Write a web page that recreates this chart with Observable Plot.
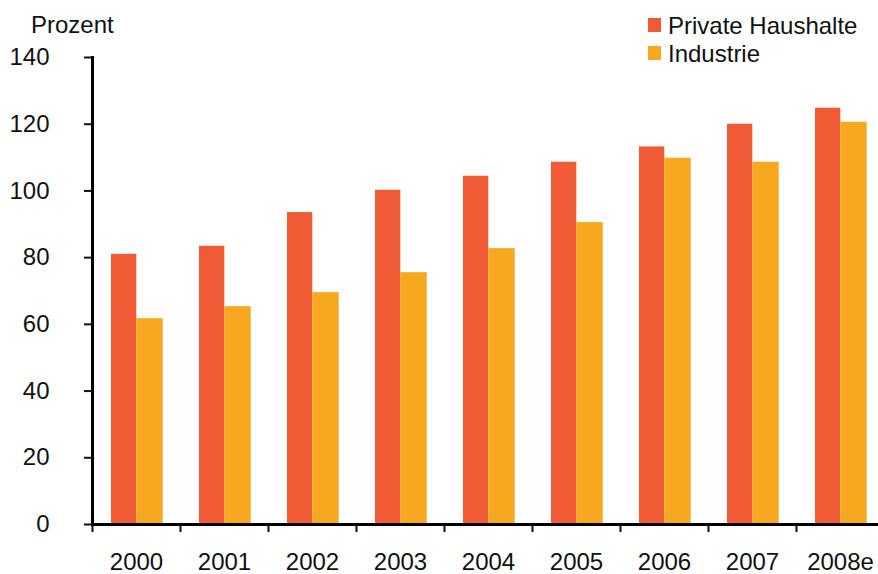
<!DOCTYPE html>
<html>
<head>
<meta charset="utf-8">
<script src="https://cdn.jsdelivr.net/npm/d3@7"></script>
<script src="https://cdn.jsdelivr.net/npm/@observablehq/plot@0.6"></script>
<style>
  html, body { margin: 0; padding: 0; background: #fff; overflow: hidden; }
  #wrap { position: relative; width: 878px; height: 574px; font-family: "Liberation Sans", Arial, sans-serif; color: #111; }
  #wrap svg { position: absolute; left: 0; top: 0; }
  .lbl { position: absolute; font-size: 24px; line-height: 1; white-space: nowrap; }
  .sw { position: absolute; width: 13px; height: 14px; }
</style>
</head>
<body>
<div id="wrap"></div>
<script>
const years = ["2000", "2001", "2002", "2003", "2004", "2005", "2006", "2007", "2008e"];
const privateHaushalte = [81, 83.4, 93.5, 100.2, 104.4, 108.6, 113.2, 120, 124.8];
const industrie = [61.7, 65.3, 69.5, 75.5, 82.7, 90.5, 109.8, 108.6, 120.6];
const yTicks = [0, 20, 40, 60, 80, 100, 120, 140];
const seriesNames = ["Private Haushalte", "Industrie"];
const colors = ["#F05A34", "#F7A81E"];

const rows = years.map((y, i) => ({year: y, ph: privateHaushalte[i], ind: industrie[i]}));

const chart = Plot.plot({
  width: 878,
  height: 574,
  marginLeft: 92,
  marginRight: -6,
  marginTop: 57,
  marginBottom: 50,
  style: {fontFamily: "Liberation Sans, Arial, sans-serif", fontSize: "24px", color: "#111", background: "transparent"},
  x: {type: "band", domain: years, padding: 0, label: null},
  y: {domain: [0, 140], label: null},
  marks: [
    Plot.barY(rows, {x: "year", y: "ph", fill: colors[0], insetLeft: 19, insetRight: 43.7}),
    Plot.barY(rows, {x: "year", y: "ind", fill: colors[1], insetLeft: 44.3, insetRight: 17.3}),
    Plot.axisY({ticks: yTicks, tickSize: 8, tickPadding: 35, strokeWidth: 2, fontSize: 24, label: null}),
    Plot.axisX({tickSize: 0, tickPadding: 28, fontSize: 24, label: null}),
    Plot.axisX({tickSize: 8, text: null, dx: -44, strokeWidth: 2, label: null}),
    Plot.frame({anchor: "left", strokeWidth: 3, stroke: "#000"}),
    Plot.ruleY([0], {strokeWidth: 3, stroke: "#000"})
  ]
});

const wrap = document.getElementById("wrap");
wrap.appendChild(chart);

function addLabel(text, left, baseline) {
  const d = document.createElement("div");
  d.className = "lbl";
  d.textContent = text;
  d.style.left = left + "px";
  d.style.top = (baseline - 19) + "px";
  wrap.appendChild(d);
}
addLabel("Prozent", 31, 32);

const legendTops = [18, 46];
seriesNames.forEach((name, i) => {
  const s = document.createElement("div");
  s.className = "sw";
  s.style.left = "648px";
  s.style.top = legendTops[i] + "px";
  s.style.background = colors[i];
  wrap.appendChild(s);
  addLabel(name, 668, legendTops[i] + 15);
});
</script>
</body>
</html>
